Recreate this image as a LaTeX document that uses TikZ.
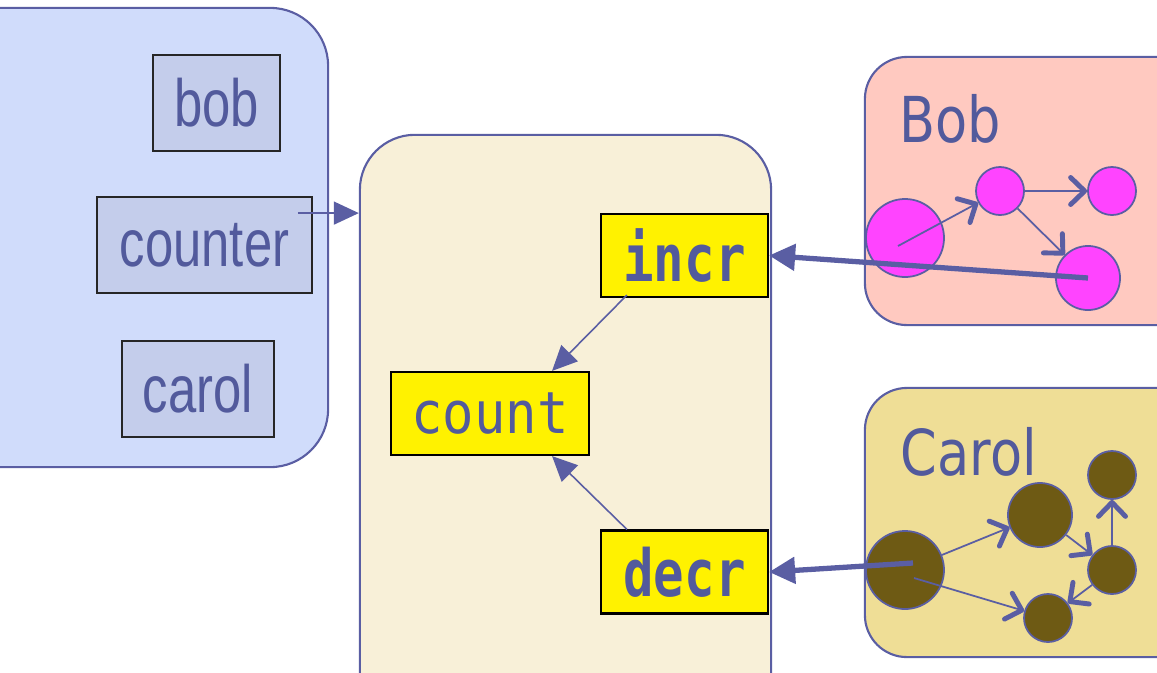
\documentclass[tikz,border=0pt]{standalone}
\usepackage{fontspec}
\usetikzlibrary{arrows.meta}

\newfontfamily\namefont[FakeStretch=0.76]{Liberation Sans}
\newfontfamily\vatfont[FakeStretch=0.83]{DejaVu Sans}
\newfontfamily\cellfont[FakeStretch=0.9]{DejaVu Sans Mono}
\newfontfamily\opfont[FakeStretch=0.78]{DejaVu Sans Mono}

\definecolor{inkblue}{HTML}{525A9C}
\definecolor{edgeblue}{HTML}{5A5EA3}
\definecolor{homefill}{HTML}{D0DCFB}
\definecolor{namefill}{HTML}{C4CDEB}
\definecolor{objfill}{HTML}{F8F0D8}
\definecolor{bobfill}{HTML}{FFC9C0}
\definecolor{carolfill}{HTML}{EFDE96}
\definecolor{bobdot}{HTML}{FF44FF}
\definecolor{caroldot}{HTML}{6E5A14}

\tikzset{
	panel/.style={draw=edgeblue, line width=0.6pt, inner sep=0pt},
	namebox/.style={draw=black!85, fill=namefill, line width=0.5pt, minimum height=0.96cm, inner sep=0pt,
		text=inkblue, font=\namefont\fontsize{19}{22}\selectfont},
	slot/.style={draw=black, fill=yellow, line width=0.6pt, minimum height=0.83cm, inner sep=0pt, text=inkblue},
	vatname/.style={anchor=base west, inner sep=0pt, text=inkblue, font=\vatfont\fontsize{18}{21}\selectfont},
	ptr/.style={draw=edgeblue, line width=0.45pt, -{Triangle[length=0.25cm,width=0.23cm]}},
	grab/.style={draw=edgeblue, line width=1.5pt, -{Triangle[length=0.26cm,width=0.26cm]}},
	link/.style={draw=edgeblue, line width=0.5pt, -{Straight Barb[length=0.14cm,width=0.27cm,line width=1.4pt,round]}},
	bobnode/.style={circle, draw=edgeblue, fill=bobdot, line width=0.5pt, inner sep=0pt},
	carolnode/.style={circle, draw=edgeblue, fill=caroldot, line width=0.5pt, inner sep=0pt}
}

\begin{document}
\begin{tikzpicture}[x=0.01cm, y=-0.01cm]
	\useasboundingbox (0,0) rectangle (1157,672);

	% the three vats and the counter object
	\node[panel, fill=homefill, rounded corners=0.58cm, minimum width=3.88cm, minimum height=4.59cm] (home) at (134,237.5) {};
	\node[panel, fill=objfill, rounded corners=0.55cm, minimum width=4.11cm, minimum height=6.65cm] (obj) at (565.5,467.5) {};
	\node[panel, fill=bobfill, rounded corners=0.42cm, minimum width=3.45cm, minimum height=2.68cm] (bobvat) at (1037.5,191) {};
	\node[panel, fill=carolfill, rounded corners=0.42cm, minimum width=3.45cm, minimum height=2.69cm] (carolvat) at (1037.5,522.5) {};

	% variables held at home
	\node[namebox, minimum width=1.27cm] (bob) at (216.5,103) {bob};
	\node[namebox, minimum width=2.15cm] (counter) at (204.5,245) {counter};
	\node[namebox, minimum width=1.52cm] (carol) at (198,389) {carol};

	% slots of the counter
	\node[slot, minimum width=1.67cm, font=\opfont\bfseries\fontsize{18.5}{22}\selectfont] (incr) at (684.5,255.5) {incr};
	\node[slot, minimum width=1.98cm, font=\cellfont\fontsize{16.5}{20}\selectfont] (count) at (490,413.5) {count};
	\node[slot, minimum width=1.67cm, font=\opfont\bfseries\fontsize{18.5}{22}\selectfont] (decr) at (684.5,572) {decr};

	\node[vatname] (bobtitle) at (899,142) {Bob};
	\node[vatname] (caroltitle) at (900,475) {Carol};

	% Bob's objects
	\node[bobnode, minimum size=0.78cm] (b1) at (905,238) {};
	\node[bobnode, minimum size=0.48cm] (b2) at (1000,191) {};
	\node[bobnode, minimum size=0.48cm] (b3) at (1112,191) {};
	\node[bobnode, minimum size=0.64cm] (b4) at (1088,278) {};

	% Carol's objects
	\node[carolnode, minimum size=0.78cm] (c1) at (905,570) {};
	\node[carolnode, minimum size=0.64cm] (c2) at (1040,515) {};
	\node[carolnode, minimum size=0.48cm] (c3) at (1112,475) {};
	\node[carolnode, minimum size=0.48cm] (c4) at (1112,570) {};
	\node[carolnode, minimum size=0.48cm] (c5) at (1048,618) {};

	% references
	\coordinate (ref) at ([shift={(-15,17)}]counter.north east);
	\draw[ptr] (ref) -- (ref -| obj.west);
	\draw[ptr] ([shift={(27,-3)}]incr.south west) -- ([xshift=0.62cm]count.north);
	\draw[ptr] ([xshift=0.27cm]decr.north west) -- ([xshift=0.62cm]count.south);

	\draw[link] ([shift={(-7,8)}]b1.center) -- (b2);
	\draw[link] (b2) -- (b3);
	\draw[link] (b2) -- (b4);

	\draw[link] (c1) -- (c2);
	\draw[link] ([shift={(9,8)}]c1.center) -- (c5);
	\draw[link] (c2) -- (c4);
	\draw[link] (c4) -- (c3);
	\draw[link] (c4) -- (c5);

	\draw[grab] (b4.center) -- (incr.east);
	\draw[grab] ([shift={(8,-7)}]c1.center) -- (decr.east);
\end{tikzpicture}
\end{document}
